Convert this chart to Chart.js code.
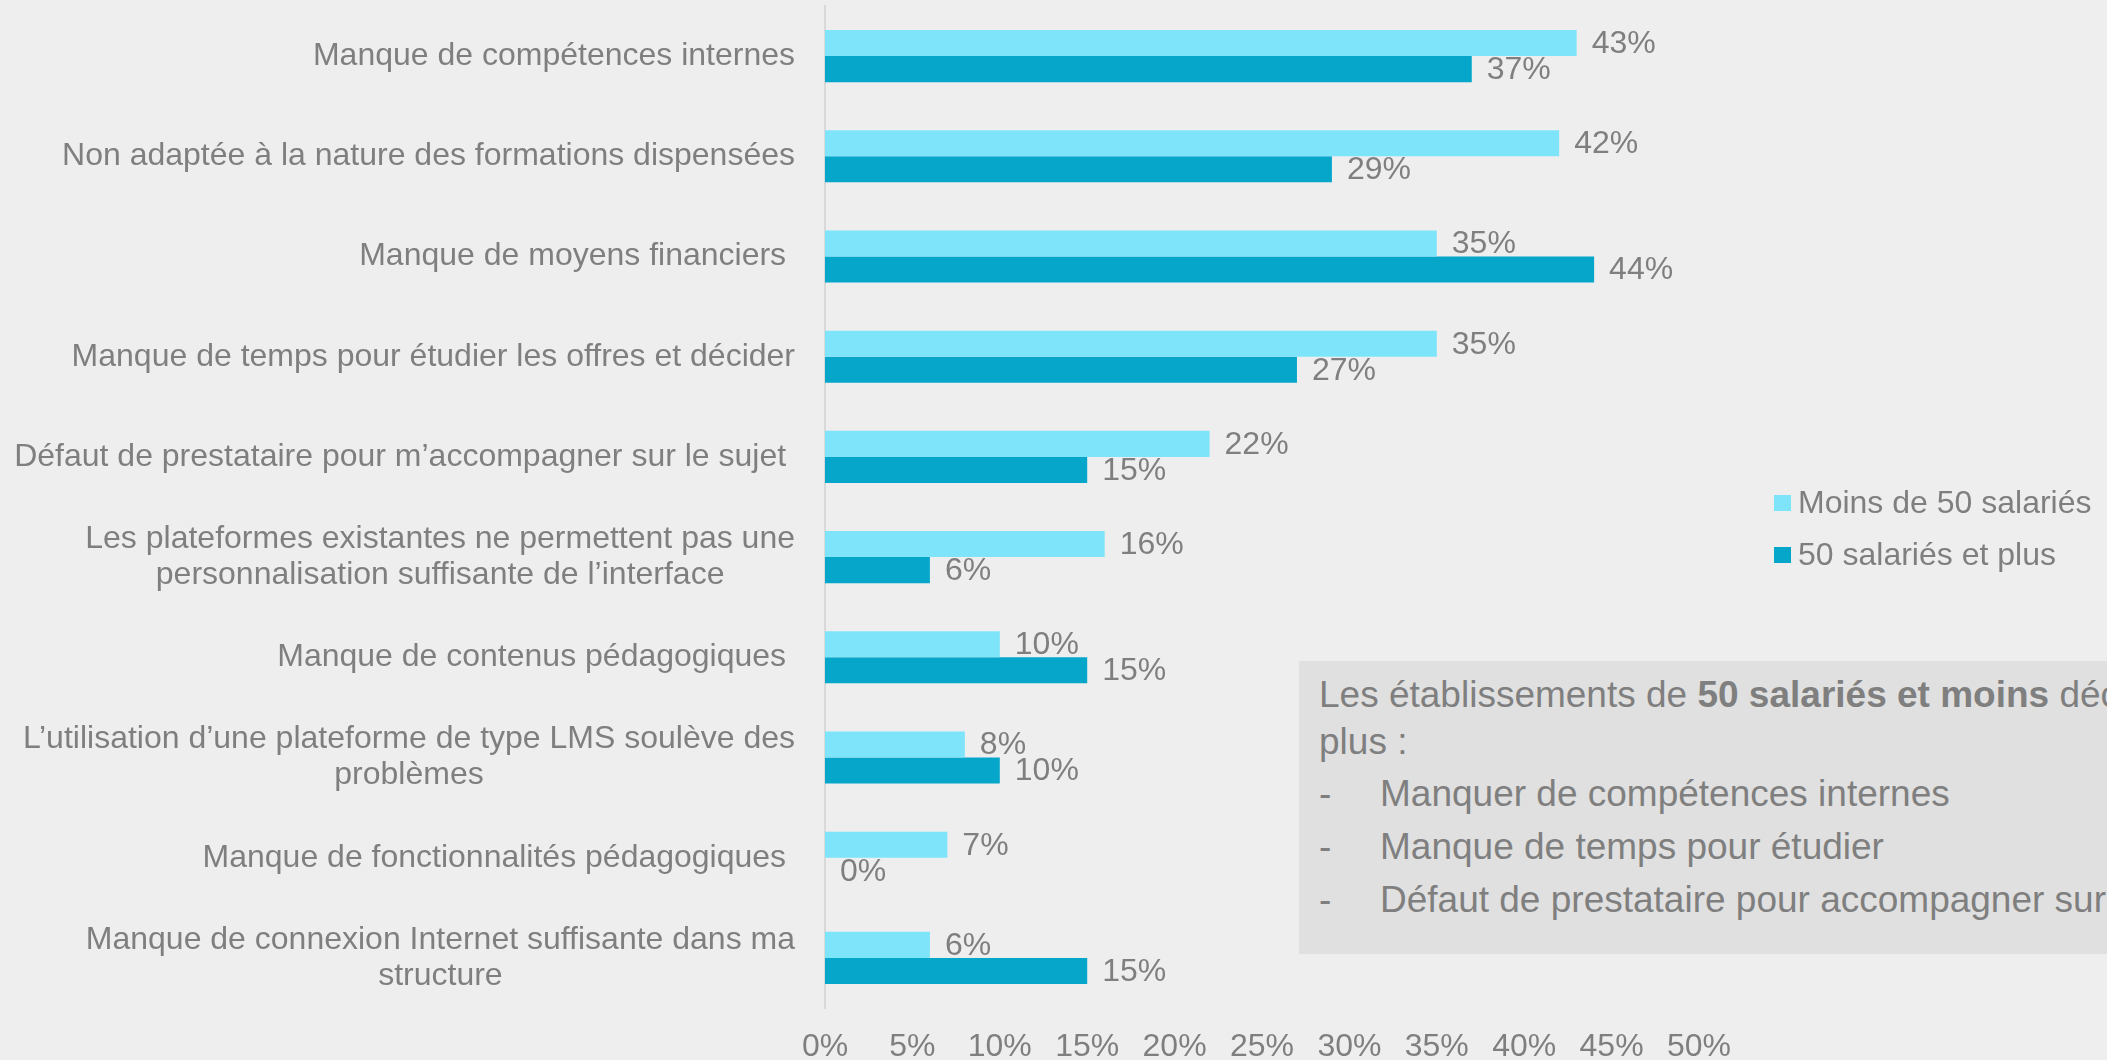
<!DOCTYPE html>
<html>
<head>
<meta charset="utf-8">
<script src="https://cdn.jsdelivr.net/npm/chart.js@4.4.1/dist/chart.umd.min.js"></script>
<style>
    html, body { margin: 0; padding: 0; background: #eeeeee; overflow: hidden; }
    #wrap { position: relative; width: 2107px; height: 1060px; }
    #chart { position: absolute; left: 0; top: 0; }
    #note {
        position: absolute; left: 1299px; top: 661px; width: 900px; height: 293px;
        background: #e0e0e0; color: #7f7f7f; font-family: 'Liberation Sans', Arial, sans-serif;
        font-size: 37px; box-sizing: border-box; padding: 10px 0 0 20px; white-space: nowrap;
    }
    #note p { margin: 0; line-height: 47px; }
    #note ul { list-style: none; margin: 2px 0 0 0; padding: 0; }
    #note li { line-height: 53px; }
    #note li span { display: inline-block; width: 61px; }
</style>
</head>
<body>
<div id="wrap">
    <canvas id="chart" width="2107" height="1060"></canvas>
    <div id="note">
        <p>Les établissements de <b>50 salariés et moins</b> déclarent davantage que ceux de 50 salariés et<br>plus :</p>
        <ul>
            <li><span>-</span>Manquer de compétences internes</li>
            <li><span>-</span>Manque de temps pour étudier</li>
            <li><span>-</span>Défaut de prestataire pour accompagner sur le sujet</li>
        </ul>
    </div>
</div>
<script>
const categories = [
    'Manque de compétences internes',
    'Non adaptée à la nature des formations dispensées',
    'Manque de moyens financiers ',
    'Manque de temps pour étudier les offres et décider',
    'Défaut de prestataire pour m’accompagner sur le sujet ',
    ['Les plateformes existantes ne permettent pas une', 'personnalisation suffisante de l’interface'],
    'Manque de contenus pédagogiques ',
    ['L’utilisation d’une plateforme de type LMS soulève des', 'problèmes'],
    'Manque de fonctionnalités pédagogiques ',
    ['Manque de connexion Internet suffisante dans ma', 'structure']
];
const seriesNames = ['Moins de 50 salariés', '50 salariés et plus'];
const moins50 = [43, 42, 35, 35, 22, 16, 10, 8, 7, 6];
const plus50 = [37, 29, 44, 27, 15, 6, 15, 10, 0, 15];
const xTicks = [0, 5, 10, 15, 20, 25, 30, 35, 40, 45, 50];

const FONT = "'Liberation Sans', Arial, sans-serif";
const GREY = '#7f7f7f';

// category labels: block right-aligned, lines centred inside the block
const catLabels = {
    id: 'catLabels',
    afterDraw(chart) {
        const ctx = chart.ctx;
        const y = chart.scales.y;
        ctx.save();
        ctx.font = '32px ' + FONT;
        ctx.fillStyle = GREY;
        ctx.textBaseline = 'middle';
        ctx.textAlign = 'center';
        const right = 795;
        const lh = 36;
        categories.forEach((lab, i) => {
            const lines = Array.isArray(lab) ? lab : [lab];
            const w = Math.max(...lines.map(l => ctx.measureText(l).width));
            const cx = right - w / 2;
            const cy = y.getPixelForValue(i);
            lines.forEach((l, k) => {
                ctx.fillText(l, cx, cy + (k - (lines.length - 1) / 2) * lh);
            });
        });
        ctx.restore();
    }
};

// value labels after bar ends
const valueLabels = {
    id: 'valueLabels',
    afterDatasetsDraw(chart) {
        const ctx = chart.ctx;
        ctx.save();
        ctx.font = '32px ' + FONT;
        ctx.fillStyle = GREY;
        ctx.textBaseline = 'middle';
        ctx.textAlign = 'left';
        chart.data.datasets.forEach((ds, di) => {
            chart.getDatasetMeta(di).data.forEach((bar, i) => {
                ctx.fillText(ds.data[i] + '%', bar.x + 15, bar.y + 1);
            });
        });
        ctx.restore();
    }
};

// legend on the right
const sideLegend = {
    id: 'sideLegend',
    afterDraw(chart) {
        const ctx = chart.ctx;
        ctx.save();
        ctx.font = '32px ' + FONT;
        ctx.textBaseline = 'middle';
        chart.data.datasets.forEach((ds, i) => {
            const cy = 503 + i * 52;
            ctx.fillStyle = ds.backgroundColor;
            ctx.fillRect(1774, cy - 8, 17, 16);
            ctx.fillStyle = GREY;
            ctx.fillText(ds.label, 1798, cy + 1);
        });
        ctx.restore();
    }
};

new Chart(document.getElementById('chart'), {
    type: 'bar',
    data: {
        labels: categories,
        datasets: [
            { label: seriesNames[0], data: moins50, backgroundColor: '#7de4fa' },
            { label: seriesNames[1], data: plus50, backgroundColor: '#06a6cb' }
        ]
    },
    options: {
        indexAxis: 'y',
        responsive: false,
        devicePixelRatio: 1,
        animation: false,
        layout: { padding: { left: 825, right: 408, top: 6, bottom: 0 } },
        datasets: { bar: { categoryPercentage: 0.52, barPercentage: 1 } },
        plugins: { legend: { display: false }, tooltip: { enabled: false } },
        scales: {
            x: {
                min: 0,
                max: 50,
                afterBuildTicks: s => { s.ticks = xTicks.map(v => ({ value: v })); },
                afterFit: s => { s.height = 52; },
                grid: { display: false, drawTicks: false },
                border: { display: false },
                ticks: {
                    padding: 20,
                    color: GREY,
                    font: { family: FONT, size: 32 },
                    autoSkip: false,
                    maxRotation: 0,
                    callback: v => v + '%'
                }
            },
            y: {
                grid: { display: false, drawTicks: false },
                border: { display: true, color: '#d9d9d9', width: 2 },
                ticks: { display: false }
            }
        }
    },
    plugins: [catLabels, valueLabels, sideLegend]
});
</script>
</body>
</html>
